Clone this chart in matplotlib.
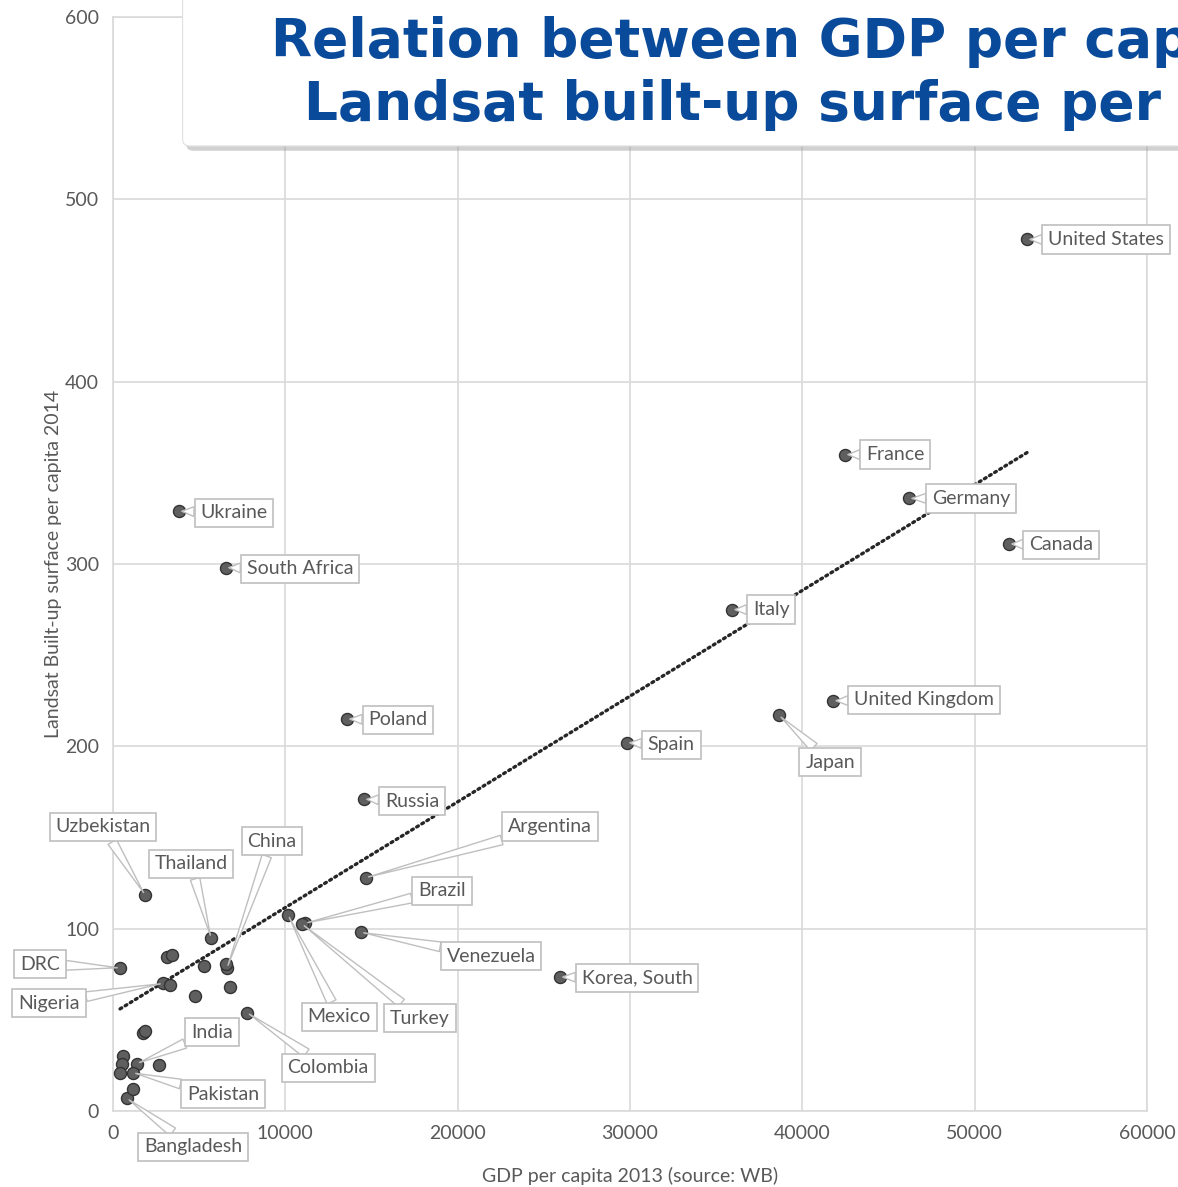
import numpy as np
import matplotlib.pyplot as plt
from matplotlib.patches import FancyBboxPatch

# GDP per capita 2013 (USD) and Landsat built-up surface per capita 2014
countries = [
    "United States", "France", "Germany", "Canada", "Italy", "United Kingdom",
    "Japan", "Spain", "Korea, South", "Poland", "Russia", "Argentina",
    "Brazil", "Venezuela", "Mexico", "Turkey", "Ukraine", "South Africa",
    "Uzbekistan", "Thailand", "China", "DRC", "Nigeria", "India",
    "Pakistan", "Bangladesh", "Colombia",
]
gdp = [
    53050, 42480, 46200, 52000, 35930, 41790,
    38650, 29830, 25940, 13580, 14570, 14680,
    11140, 14390, 10160, 10970, 3830, 6560,
    1860, 5690, 6620, 410, 2900, 1390,
    1160, 810, 7780,
]
builtup = [
    478, 360, 336, 311, 275, 225,
    217, 202, 73.5, 215, 171, 128,
    103, 98, 107.5, 102.6, 329, 298,
    118.5, 95, 78.5, 78.5, 70, 26,
    21, 7, 54,
]

# unlabelled countries
other_gdp = [3130, 3420, 5280, 6790, 4760, 3310, 1740, 1860, 580, 520, 410, 2670, 1160, 6550]
other_builtup = [84.5, 85.6, 79.5, 68, 63, 69, 43, 44, 30, 26, 21, 25, 12, 80.5]

# callout label centres (data coords)
label_pos = {
    "United States": (57630, 478), "France": (45390, 360), "Germany": (49800, 336),
    "Canada": (55020, 310.5), "Italy": (38190, 275), "United Kingdom": (47070, 225.5),
    "Japan": (41610, 191.4), "Spain": (32390, 200.8), "Korea, South": (30410, 73),
    "Poland": (16540, 214.5), "Russia": (17350, 170), "Argentina": (25360, 156),
    "Brazil": (19090, 120.7), "Venezuela": (21940, 85), "Mexico": (13120, 51.6),
    "Turkey": (17820, 51), "Ukraine": (7020, 328), "South Africa": (10850, 297.3),
    "Uzbekistan": (-580, 155.8), "Thailand": (4530, 135.5), "China": (9230, 148),
    "DRC": (-4240, 80.6), "Nigeria": (-3710, 59.2), "India": (5750, 43.3),
    "Pakistan": (6380, 9.3), "Bangladesh": (4640, -19.7), "Colombia": (12480, 23.6),
}

GREY_TEXT = "#595959"
GRID = "#d9d9d9"
FONT = "Lato"
TITLE_BLUE = "#0a4a9a"

fig = plt.figure(figsize=(11.78, 11.87), dpi=100)
ax = fig.add_axes([0.0959, 0.064, 0.8778, 0.9217])

all_x = np.array(gdp + other_gdp, dtype=float)
all_y = np.array(builtup + other_builtup, dtype=float)

# linear trendline
slope, intercept = np.polyfit(all_x, all_y, 1)
tx = np.array([all_x.min(), all_x.max()])
ax.plot(tx, intercept + slope * tx, color="#262626", lw=2.4,
        linestyle=(0, (0.6, 1.2)), dash_capstyle="round", zorder=3)

ax.scatter(all_x, all_y, s=75, c="#5f5f5f", edgecolors="#333333",
           linewidths=1.0, zorder=4)

for name, x, y in zip(countries, gdp, builtup):
    lx, ly = label_pos[name]
    ax.annotate(
        name, xy=(x, y), xytext=(lx, ly), textcoords="data",
        ha="center", va="center", fontsize=14, color=GREY_TEXT, family=FONT,
        annotation_clip=False, zorder=5,
        bbox=dict(boxstyle="square,pad=0.3", fc="white", ec="#bfbfbf", lw=1.2),
        arrowprops=dict(arrowstyle="wedge,tail_width=0.5,shrink_factor=0.5",
                        fc="white", ec="#bfbfbf", lw=1.0, shrinkA=0, shrinkB=2),
    )

ax.set_xlim(0, 60000)
ax.set_ylim(0, 600)
ax.set_xticks(range(0, 60001, 10000))
ax.set_yticks(range(0, 601, 100))
ax.grid(True, color=GRID, lw=1.2)
ax.set_axisbelow(True)
for sp in ax.spines.values():
    sp.set_color(GRID)
    sp.set_linewidth(1.2)
ax.tick_params(length=0, labelsize=14, labelcolor=GREY_TEXT, pad=10)
for lab in ax.get_xticklabels() + ax.get_yticklabels():
    lab.set_family(FONT)

ax.set_xlabel("GDP per capita 2013 (source: WB)", fontsize=14, color=GREY_TEXT,
              family=FONT, labelpad=18)
ax.set_ylabel("Landsat Built-up surface per capita 2014", fontsize=14,
              color=GREY_TEXT, family=FONT, labelpad=2)

# title box with shadow (the box runs past the right edge, as in the original)
shadow = FancyBboxPatch((0.158, 0.873), 0.9, 0.16, boxstyle="round,pad=0,rounding_size=0.006",
                        transform=fig.transFigure, fc="#9a9a9a", ec="none", alpha=0.45, zorder=9)
box = FancyBboxPatch((0.155, 0.877), 0.9, 0.16, boxstyle="round,pad=0,rounding_size=0.006",
                     transform=fig.transFigure, fc="white", ec="#e0e0e0", lw=0.8, zorder=10)
fig.patches.extend([shadow, box])
title_kw = dict(ha="left", va="baseline", fontsize=38.5, fontweight="bold",
                color=TITLE_BLUE, family="DejaVu Sans", zorder=11)
fig.text(0.230, 0.952, "Relation between GDP per capita and", **title_kw)
fig.text(0.258, 0.8989, "Landsat built-up surface per capita", **title_kw)

fig.savefig("out.png", dpi=100)
